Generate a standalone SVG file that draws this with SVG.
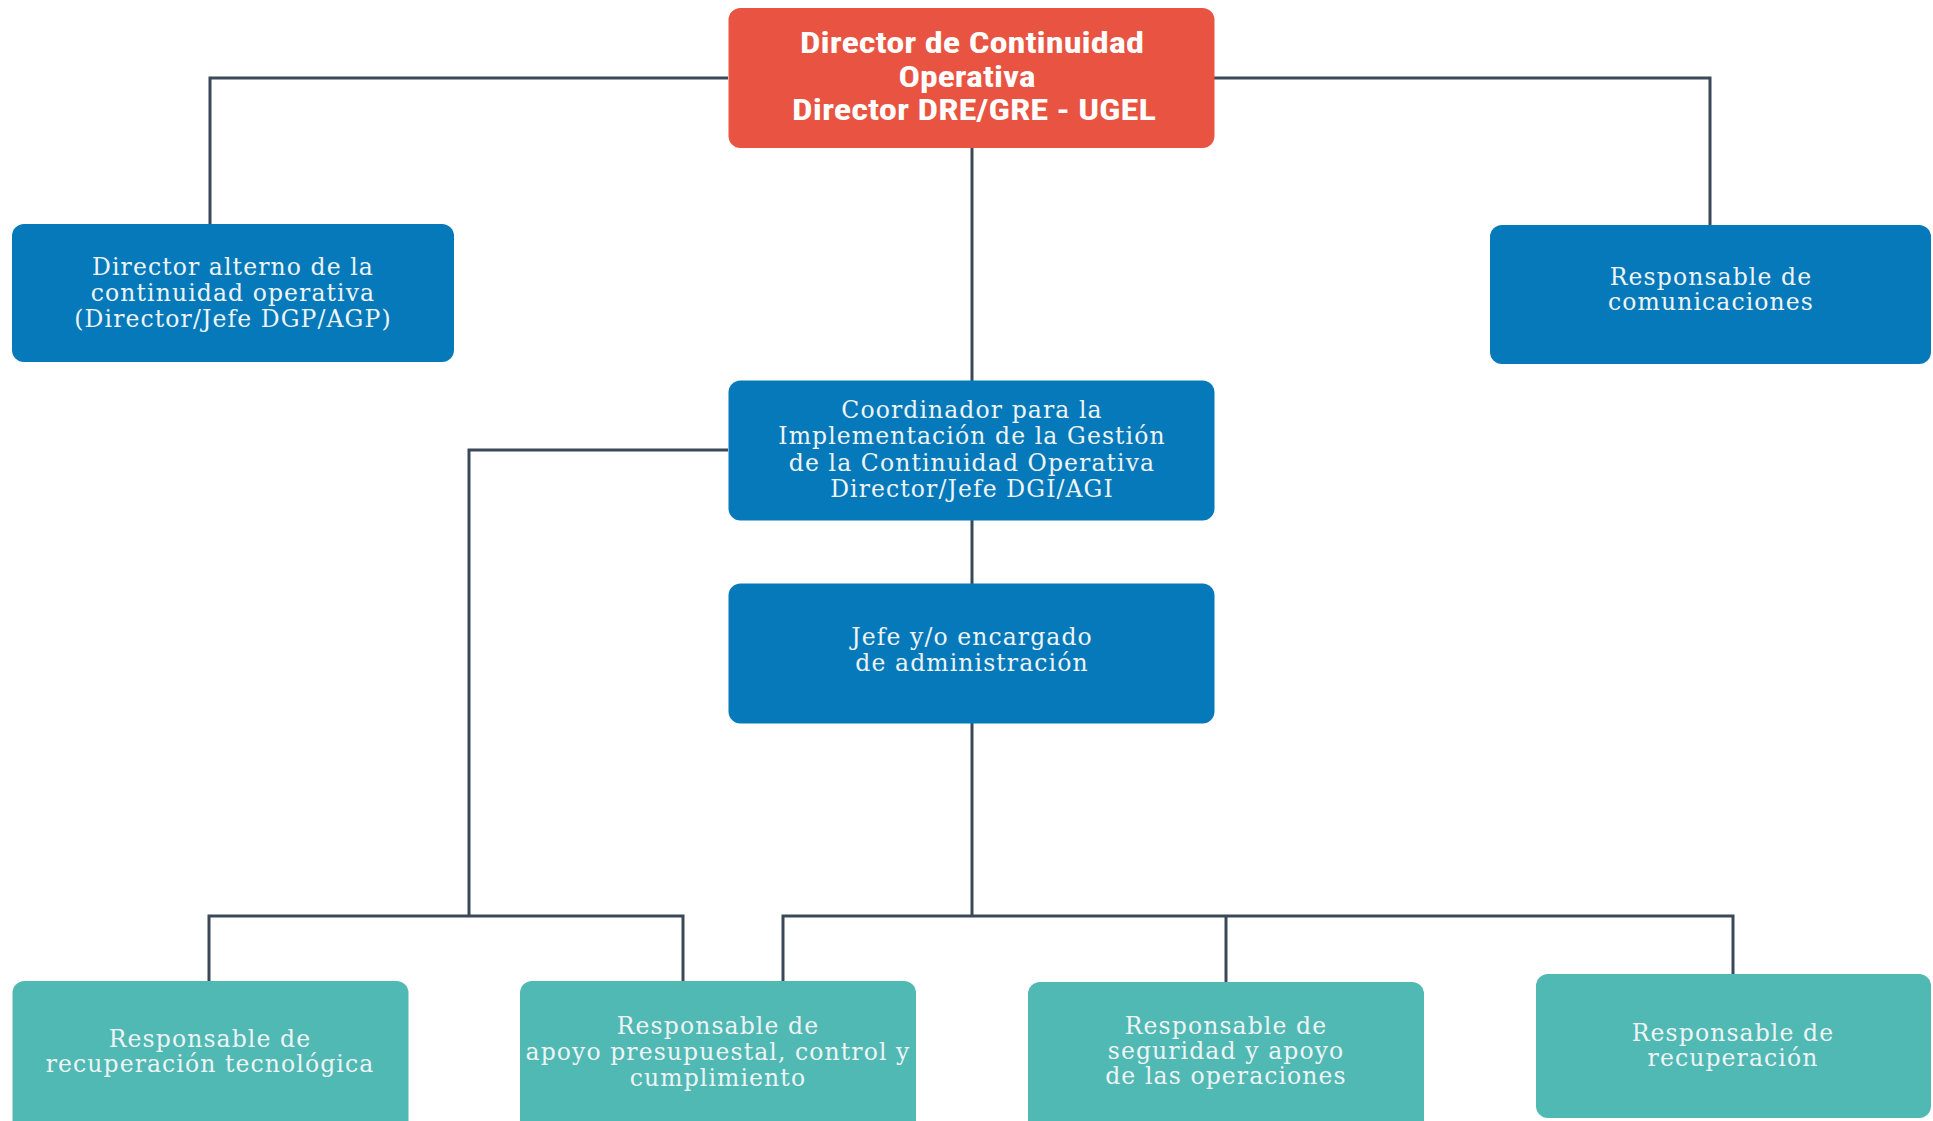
<svg xmlns="http://www.w3.org/2000/svg" width="1933" height="1121" viewBox="0 0 1933 1121">
<style>
.red{fill:#E85441}
.blue{fill:#0679BA}
.teal{fill:#50B9B3}
.conn{fill:none;stroke:#3A4858;stroke-width:3}
.title{font-family:"Liberation Sans Narrow","Roboto Condensed","Liberation Sans",sans-serif;font-weight:bold;font-size:30px;fill:#FFFFFF;text-anchor:middle}
.lbl{font-family:"DejaVu Serif","Liberation Serif",serif;font-size:23.5px;letter-spacing:1.1px;fill:#EEF4F6;text-anchor:middle}
</style>
<rect width="1933" height="1121" fill="#FFFFFF"/>
<g id="connectors">
<path class="conn" d="M728,78 H210 V224"/>
<path class="conn" d="M1205,78 H1710 V225"/>
<path class="conn" d="M972,148 V381"/>
<path class="conn" d="M972,520 V584"/>
<path class="conn" d="M972,723 V916"/>
<path class="conn" d="M728,450 H469 V916"/>
<path class="conn" d="M209,981 V916 H683 V981"/>
<path class="conn" d="M783,981 V916 H1733 V974"/>
<path class="conn" d="M1226,916 V982"/>
</g>
<g id="director">
<rect class="red" x="728.5" y="8" width="486" height="140" rx="12"/>
<text class="title" x="972" y="53" textLength="344" lengthAdjust="spacingAndGlyphs">Director de Continuidad</text>
<text class="title" x="967" y="87" textLength="137" lengthAdjust="spacingAndGlyphs">Operativa</text>
<text class="title" x="974" y="120" textLength="364" lengthAdjust="spacingAndGlyphs">Director DRE/GRE - UGEL</text>
</g>
<g id="alterno">
<rect class="blue" x="12" y="224" width="442" height="138" rx="12"/>
<text class="lbl" x="233" y="274.5">Director alterno de la</text>
<text class="lbl" x="233" y="300.5">continuidad operativa</text>
<text class="lbl" x="233" y="326.5">(Director/Jefe DGP/AGP)</text>
</g>
<g id="comunicaciones">
<rect class="blue" x="1490" y="225" width="441" height="139" rx="12"/>
<text class="lbl" x="1711" y="285">Responsable de</text>
<text class="lbl" x="1711" y="310">comunicaciones</text>
</g>
<g id="coordinador">
<rect class="blue" x="728.5" y="380.5" width="486" height="140" rx="12"/>
<text class="lbl" x="972" y="418">Coordinador para la</text>
<text class="lbl" x="972" y="444">Implementación de la Gestión</text>
<text class="lbl" x="972" y="470.5">de la Continuidad Operativa</text>
<text class="lbl" x="972" y="497">Director/Jefe DGI/AGI</text>
</g>
<g id="jefe">
<rect class="blue" x="728.5" y="583.5" width="486" height="140" rx="12"/>
<text class="lbl" x="972" y="644.5">Jefe y/o encargado</text>
<text class="lbl" x="972" y="671">de administración</text>
</g>
<g id="rec-tecnologica">
<rect class="teal" x="12.5" y="981" width="396" height="160" rx="12"/>
<text class="lbl" x="210" y="1047">Responsable de</text>
<text class="lbl" x="210" y="1072">recuperación tecnológica</text>
</g>
<g id="apoyo-presupuestal">
<rect class="teal" x="520" y="981" width="396" height="160" rx="12"/>
<text class="lbl" x="718" y="1034">Responsable de</text>
<text class="lbl" x="718" y="1060">apoyo presupuestal, control y</text>
<text class="lbl" x="718" y="1086">cumplimiento</text>
</g>
<g id="seguridad">
<rect class="teal" x="1028" y="982" width="396" height="160" rx="12"/>
<text class="lbl" x="1226" y="1034">Responsable de</text>
<text class="lbl" x="1226" y="1059">seguridad y apoyo</text>
<text class="lbl" x="1226" y="1084">de las operaciones</text>
</g>
<g id="recuperacion">
<rect class="teal" x="1536" y="974" width="395" height="144" rx="12"/>
<text class="lbl" x="1733" y="1041">Responsable de</text>
<text class="lbl" x="1733" y="1066">recuperación</text>
</g>
</svg>
